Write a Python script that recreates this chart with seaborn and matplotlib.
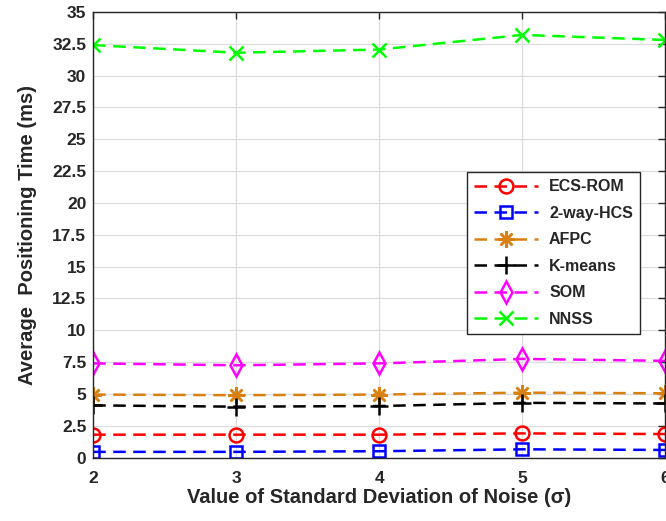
import matplotlib
matplotlib.use("Agg")
import matplotlib.pyplot as plt
import seaborn as sns

# Noise standard deviation (x-axis)
sigma = [2, 3, 4, 5, 6]

# Average positioning time (ms) for each method
ecs_rom = [1.8, 1.8, 1.8, 1.9, 1.85]
hcs_2way = [0.45, 0.45, 0.5, 0.65, 0.6]
afpc = [4.95, 4.9, 4.95, 5.1, 5.05]
kmeans = [4.1, 4.0, 4.05, 4.3, 4.25]
som = [7.4, 7.25, 7.4, 7.75, 7.6]
nnss = [32.4, 31.8, 32.05, 33.2, 32.8]

method_names = ["ECS-ROM", "2-way-HCS", "AFPC", "K-means", "SOM", "NNSS"]
y_ticks = [0, 2.5, 5, 7.5, 10, 12.5, 15, 17.5, 20, 22.5, 25, 27.5, 30, 32.5, 35]
x_ticks = [2, 3, 4, 5, 6]

sns.set_theme(style="whitegrid")
plt.rcParams["font.family"] = ["Liberation Sans", "DejaVu Sans"]
plt.rcParams["font.weight"] = "bold"

fig = plt.figure(figsize=(6.66, 5.21), dpi=100)
ax = fig.add_axes([0.140, 0.1217, 0.859, 0.8553])

styles = [
    dict(color="#ff0000", marker="o", markersize=10, mfc="none"),
    dict(color="#0000ff", marker="s", markersize=9, mfc="none"),
    dict(color="#d98012", marker=(8, 2, 0), markersize=12, mfc="#d98012"),
    dict(color="#000000", marker="+", markersize=13),
    dict(color="#ff00ff", marker="d", markersize=11, mfc="none"),
    dict(color="#00ff00", marker="x", markersize=10),
]
series = [ecs_rom, hcs_2way, afpc, kmeans, som, nnss]

for name, vals, st in zip(method_names, series, styles):
    sns.lineplot(
        x=sigma, y=vals, ax=ax, label=name,
        color=st["color"], marker=st["marker"], markersize=st["markersize"],
        markerfacecolor=st.get("mfc", st["color"]), markeredgecolor=st["color"],
        markeredgewidth=1.8, linewidth=1.8, linestyle=(0, (5, 3)),
    )

ax.set_xlim(2, 6)
ax.set_ylim(0, 35)
ax.set_xticks(x_ticks)
ax.set_yticks(y_ticks)
ax.set_yticklabels([f"{t:g}" for t in y_ticks])
ax.set_xticklabels([str(t) for t in x_ticks])

ax.grid(True, color="#dcdcdc", linewidth=0.9)
for sp in ax.spines.values():
    sp.set_color("#262626")
    sp.set_linewidth(1.0)
ax.tick_params(axis="both", which="both", direction="in", length=5, width=1,
               color="#262626", labelsize=12.5, labelcolor="#262626",
               top=True, right=True)
ax.tick_params(axis="y", pad=5)
ax.tick_params(axis="x", pad=10)
for lbl in ax.get_xticklabels() + ax.get_yticklabels():
    lbl.set_fontweight("bold")

ax.set_xlabel("Value of Standard Deviation of Noise (σ)", fontsize=14.5,
              fontweight="bold", color="#262626", labelpad=1)
ax.set_ylabel("Average  Positioning Time (ms)", fontsize=14.5,
              fontweight="bold", color="#262626", labelpad=11)

leg = ax.legend(loc="upper left", bbox_to_anchor=(0.653, 0.641),
                borderaxespad=0, frameon=True, fancybox=False, framealpha=1,
                edgecolor="#262626", handlelength=4.0, handletextpad=0.7,
                borderpad=0.45, labelspacing=0.72,
                prop={"weight": "bold", "size": 11.5})
leg.get_frame().set_linewidth(1.0)

fig.savefig("out.png", dpi=100)
